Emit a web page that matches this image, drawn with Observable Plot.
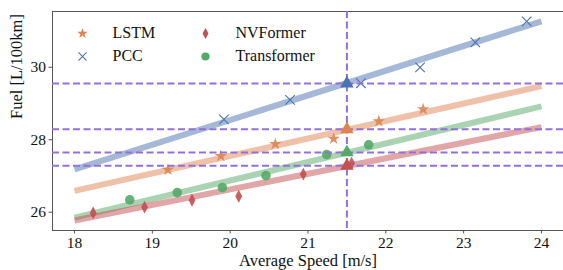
<!DOCTYPE html>
<html><head><meta charset="utf-8">
<script src="https://cdn.jsdelivr.net/npm/d3@7"></script>
<script src="https://cdn.jsdelivr.net/npm/@observablehq/plot@0.6"></script>
<style>
body{margin:0;background:#fff;overflow:hidden}
svg, svg text{font-family:"Liberation Serif","DejaVu Serif",serif !important}
</style></head><body><div id="chart"></div>
<script>
// Series and colours
const series = ["LSTM", "PCC", "NVFormer", "Transformer"];
const colors = ["#dd8452", "#4c72b0", "#c44e52", "#55a868"];

// Scatter points
const lstmX = [19.2, 19.88, 20.58, 21.33, 21.91, 22.48];
const lstmY = [27.17, 27.55, 27.88, 28.03, 28.51, 28.84];
const pccX = [19.92, 20.77, 21.68, 22.44, 23.15, 23.81];
const pccY = [28.56, 29.10, 29.56, 30.00, 30.69, 31.27];
const nvX = [18.24, 18.9, 19.51, 20.11, 20.94, 21.56];
const nvY = [25.98, 26.14, 26.33, 26.44, 27.05, 27.35];
const trX = [18.71, 19.32, 19.9, 20.46, 21.24, 21.78];
const trY = [26.34, 26.54, 26.68, 27.01, 27.59, 27.86];

// Linear fits (endpoints at 18 and 24 m/s)
const fitX = [18, 24];
const fitLSTM = [26.59, 29.48];
const fitPCC = [27.18, 31.27];
const fitNV = [25.77, 28.35];
const fitTR = [25.85, 28.92];

// Reference speed and fuel at that speed
const refSpeed = [21.5];
const refSeries = ["PCC", "LSTM", "Transformer", "NVFormer"];
const refFuel = [29.55, 28.29, 27.65, 27.28];

// Axis ticks
const xTicks = [18, 19, 20, 21, 22, 23, 24];
const yTicks = [26, 28, 30];

const colorOf = Object.fromEntries(series.map((s, i) => [s, colors[i]]));

const thinDiamond = {
  draw(ctx, size) {
    const r = Math.sqrt(size / Math.PI);
    const w = r * 0.62, h = r * 1.15;
    ctx.moveTo(0, -h); ctx.lineTo(w, 0); ctx.lineTo(0, h); ctx.lineTo(-w, 0); ctx.closePath();
  }
};

const pts = (xs, ys, s) => xs.map((x, i) => ({x, y: ys[i], s}));
const fit = (ys, s) => fitX.map((x, i) => ({x, y: ys[i], s}));

const lines = [
  ...fit(fitPCC, "PCC"), ...fit(fitLSTM, "LSTM"), ...fit(fitTR, "Transformer"), ...fit(fitNV, "NVFormer")
];
const refPts = refSeries.map((s, i) => ({x: refSpeed[0], y: refFuel[i], s}));

const symbolOpts = {
  LSTM: {symbol: "star", r: 3.9, fill: colorOf.LSTM},
  PCC: {symbol: "times", r: 4.4, stroke: colorOf.PCC, fill: "none", strokeWidth: 1.1},
  NVFormer: {symbol: thinDiamond, r: 5.6, fill: colorOf.NVFormer},
  Transformer: {symbol: "circle", r: 4.8, fill: colorOf.Transformer}
};
const data = {
  LSTM: pts(lstmX, lstmY, "LSTM"), PCC: pts(pccX, pccY, "PCC"),
  NVFormer: pts(nvX, nvY, "NVFormer"), Transformer: pts(trX, trY, "Transformer")
};

const legendPos = {
  LSTM: [30, 22], PCC: [30, 45], NVFormer: [153, 22], Transformer: [153, 45]
};

const serif = "Liberation Serif";
const purple = "#9370DB";
const marks = [
  Plot.frame({stroke: "#555", strokeWidth: 1, insetRight: -3}),
  Plot.axisX(xTicks, {tickSize: 3.5, stroke: "#555", fill: "#111", fontSize: 15.5, fontFamily: serif, tickPadding: 3,
    label: null}),
  Plot.axisY(yTicks, {tickSize: 3.5, stroke: "#555", fill: "#111", fontSize: 15.5, fontFamily: serif, tickPadding: 3,
    label: null}),
  Plot.text(["Average Speed [m/s]"], {text: d => d, frameAnchor: "bottom", lineAnchor: "middle", dy: 30, fontSize: 16.5, fontFamily: serif, fill: "#111"}),
  Plot.text(["Fuel [L/100km]"], {text: d => d, frameAnchor: "left", lineAnchor: "middle", dx: -36, dy: -2, rotate: -90, fontSize: 16.5, fontFamily: serif, fill: "#111"}),
  Plot.line(lines, {x: "x", y: "y", z: "s", stroke: d => colorOf[d.s], strokeWidth: 6, strokeOpacity: 0.5, strokeLinecap: "butt"}),
  ...series.map(s => Plot.dot(data[s], {x: "x", y: "y", ...symbolOpts[s], fillOpacity: 0.9})),
  Plot.ruleY(refFuel, {stroke: purple, strokeWidth: 2, strokeDasharray: "7,3.5", insetRight: -3}),
  Plot.ruleX(refSpeed, {stroke: purple, strokeWidth: 2, strokeDasharray: "7,3.5"}),
  Plot.dot(refPts, {x: "x", y: "y", symbol: "triangle", r: 5, fill: d => colorOf[d.s]}),
  ...series.map(s => Plot.dot([0], {frameAnchor: "top-left", dx: legendPos[s][0], dy: legendPos[s][1], ...symbolOpts[s], r: symbolOpts[s].r * 0.85})),
  ...series.map(s => Plot.text([s], {text: d => d, frameAnchor: "top-left", lineAnchor: "middle", dx: legendPos[s][0] + 30, dy: legendPos[s][1] - 0.5, textAnchor: "start", fontSize: 16, fontFamily: serif, fill: "#111"}))
];

const chart = Plot.plot({
  width: 563, height: 270,
  marginLeft: 52, marginRight: 0, marginTop: 11, marginBottom: 40,
  style: {fontFamily: serif, fontSize: "15px", background: "#fff", overflow: "hidden"},
  x: {domain: [17.717, 24.283]},
  y: {domain: [25.495, 31.54]},
  marks
});
document.getElementById("chart").appendChild(chart);
</script></body></html>
